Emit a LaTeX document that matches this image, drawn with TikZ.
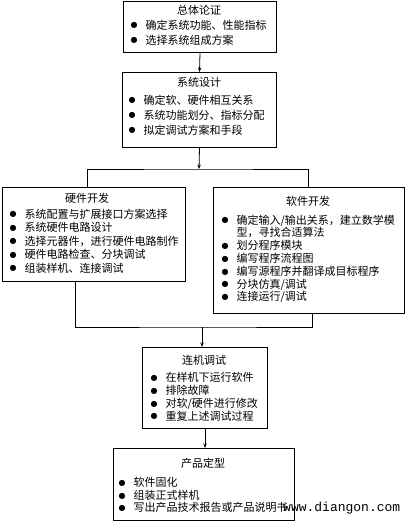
\documentclass[tikz,border=0pt]{standalone}
\usepackage{fontspec}
\usepackage{tikz}
\usetikzlibrary{arrows.meta}
\newfontfamily\cjk{Noto Sans CJK SC}
\newfontfamily\dotfont{DejaVu Sans}
\newfontfamily\wmfont{Liberation Mono}
\newcommand{\bul}{\makebox[15pt][l]{\raisebox{1.2pt}{\dotfont\fontsize{8}{8}\selectfont ●}}}
\newcommand{\nobul}{\makebox[15pt][l]{}}

\begin{document}
\begin{tikzpicture}[x=1pt, y=-1pt,
	box/.style={draw, line width=1pt, inner sep=0pt, anchor=north west},
	title/.style={inner sep=0pt, font=\cjk\fontsize{11}{13}\selectfont},
	items/.style={anchor=north west, align=left, inner sep=0pt, font=\cjk\fontsize{11}{#1}\selectfont},
	line/.style={line width=0.8pt},
	arr/.style={line width=0.8pt, -{Stealth[length=4.5pt, width=3.5pt]}}]
	\useasboundingbox (0,0) rectangle (406,521);
	% boxes
	\node (b1) at (123,1) [box, minimum width=153pt, minimum height=51pt] {};
	\node (b2) at (122,72) [box, minimum width=154pt, minimum height=75pt] {};
	\node (hw) at (2,187) [box, minimum width=183pt, minimum height=94pt] {};
	\node (sw) at (213,187) [box, minimum width=191pt, minimum height=126pt] {};
	\node (b4) at (142,347) [box, minimum width=125pt, minimum height=81pt] {};
	\node (b5) at (113,448) [box, minimum width=181pt, minimum height=72pt] {};
	% titles
	\node (t1) at (199,10) [title] {总体论证};
	\node (t2) at (199,82) [title] {系统设计};
	\node (thw) at (87,198) [title] {硬件开发};
	\node (tsw) at (308,201) [title] {软件开发};
	\node (t4) at (204,360) [title] {连机调试};
	\node (t5) at (203,463) [title] {产品定型};
	% items
	\node (i1) at (130.3,19.5) [items=15] {\bul 确定系统功能、性能指标\\ \bul 选择系统组成方案};
	\node (i2) at (128.3,94.5) [items=15] {\bul 确定软、硬件相互关系\\ \bul 系统功能划分、指标分配\\ \bul 拟定调试方案和手段};
	\node (ihw) at (9.3,208.5) [items=13.5] {\bul 系统配置与扩展接口方案选择\\ \bul 系统硬件电路设计\\ \bul 选择元器件，进行硬件电路制作\\ \bul 硬件电路检查、分块调试\\ \bul 组装样机、连接调试};
	\node (isw) at (221.3,214.5) [items=12.8] {\bul 确定输入/输出关系，建立数学模\\ \nobul 型，寻找合适算法\\ \bul 划分程序模块\\ \bul 编写程序流程图\\ \bul 编写源程序并翻译成目标程序\\ \bul 分块仿真/调试\\ \bul 连接运行/调试};
	\node (i4) at (150.3,372.5) [items=12.7] {\bul 在样机下运行软件\\ \bul 排除故障\\ \bul 对软/硬件进行修改\\ \bul 重复上述调试过程};
	\node (i5) at (118.3,477.5) [items=12.5] {\bul 软件固化\\ \bul 组装正式样机\\ \bul 写出产品技术报告或产品说明书};
	\node (wm) at (283,508) [anchor=west, inner sep=0pt, font=\wmfont\fontsize{13}{13}\selectfont] {www.diangon.com};
	% connectors
	\coordinate (split) at (199,169);
	\coordinate (hwin) at (87,187);
	\coordinate (swin) at (308,187);
	\coordinate (hwout) at (75,281);
	\coordinate (swout) at (312,313);
	\coordinate (join) at (202,327);
	\draw[arr] (b1.south) -- (b2.north);
	\draw[arr] (b2.south) -- (split);
	\draw[line] (hwin) |- (split) -| (swin);
	\draw[line] (hwout) |- (join) -| (swout);
	\draw[arr] (join) -- (join |- b4.north);
	\draw[arr] (b4.south) -- (b4.south |- b5.north);
\end{tikzpicture}
\end{document}
